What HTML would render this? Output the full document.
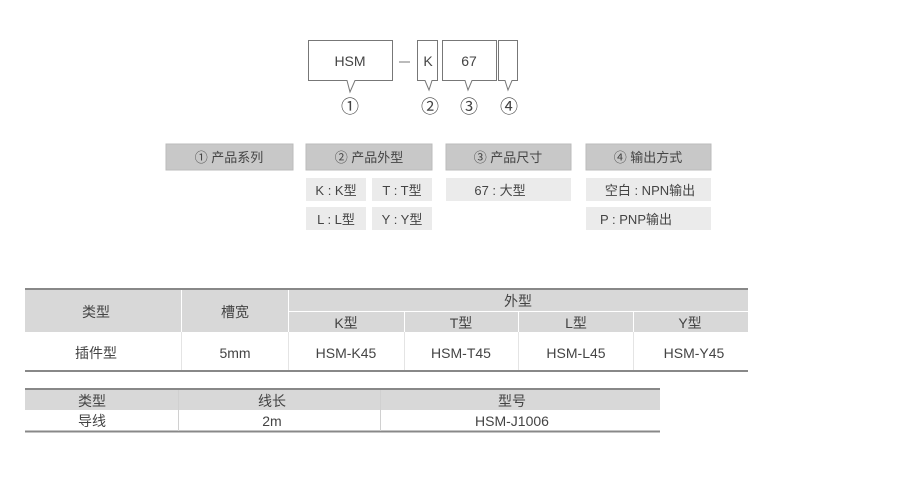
<!DOCTYPE html>
<html><head><meta charset="utf-8"><style>
body{margin:0;background:#fff;}
svg text{font-family:"Liberation Sans","Noto Sans CJK SC",sans-serif;fill:#444;}
</style></head><body>
<svg width="900" height="472" xmlns="http://www.w3.org/2000/svg">
<g fill="#fff" stroke="#777" stroke-width="1">
<path d="M308.5 40.5H392.5V80.5H355L350 92L347 80.5H308.5Z"/>
<path d="M417.5 40.5H437.5V80.5H432L429 90L425 80.5H417.5Z"/>
<path d="M442.5 40.5H496.5V80.5H472L468 90L465 80.5H442.5Z"/>
<path d="M498.5 40.5H517.5V80.5H512L508 90L505 80.5H498.5Z"/>
</g>
<line x1="399" y1="62" x2="410" y2="62" stroke="#777"/>
<g font-size="14" text-anchor="middle">
<text x="350" y="66">HSM</text><text x="428" y="66">K</text><text x="469" y="66">67</text>
</g>
<g font-size="18" text-anchor="middle" font-family="'DejaVu Sans',sans-serif">
<text x="350" y="113">①</text><text x="430" y="113">②</text><text x="469" y="113">③</text><text x="509" y="113">④</text>
</g>
<g fill="#c8c8c8" stroke="#bbb">
<rect x="166" y="144" width="127" height="26"/><rect x="306" y="144" width="126" height="26"/>
<rect x="446" y="144" width="125" height="26"/><rect x="586" y="144" width="125" height="26"/>
</g>
<g fill="#ebebeb">
<rect x="306" y="178" width="60" height="23"/><rect x="372" y="178" width="60" height="23"/>
<rect x="306" y="207" width="60" height="23"/><rect x="372" y="207" width="60" height="23"/>
<rect x="446" y="178" width="125" height="23"/>
<rect x="586" y="178" width="125" height="23"/><rect x="586" y="207" width="125" height="23"/>
</g>
<g font-size="13" text-anchor="middle">
<text x="229" y="162">① 产品系列</text><text x="369" y="162">② 产品外型</text>
<text x="508" y="162">③ 产品尺寸</text><text x="648" y="162">④ 输出方式</text>
<text x="336" y="195">K : K型</text><text x="402" y="195">T : T型</text>
<text x="336" y="224">L : L型</text><text x="402" y="224">Y : Y型</text>
<text x="500" y="195">67 : 大型</text>
<text x="650" y="195">空白 : NPN输出</text><text x="636" y="224">P : PNP输出</text>
</g>
<!-- table 1 -->
<rect x="25" y="290" width="723" height="42" fill="#d8d8d8"/>
<line x1="25" y1="289" x2="748" y2="289" stroke="#888" stroke-width="2"/>
<line x1="288" y1="311.5" x2="748" y2="311.5" stroke="#fff"/>
<line x1="25" y1="371" x2="748" y2="371" stroke="#888" stroke-width="2"/>
<g stroke="#e4e4e4"><line x1="181.5" y1="290" x2="181.5" y2="370"/><line x1="288.5" y1="290" x2="288.5" y2="370"/>
<line x1="404.5" y1="312" x2="404.5" y2="370"/><line x1="518.5" y1="312" x2="518.5" y2="370"/><line x1="633.5" y1="312" x2="633.5" y2="370"/></g>
<g stroke="#fff"><line x1="181.5" y1="290" x2="181.5" y2="332"/><line x1="288.5" y1="290" x2="288.5" y2="332"/>
<line x1="404.5" y1="312" x2="404.5" y2="332"/><line x1="518.5" y1="312" x2="518.5" y2="332"/><line x1="633.5" y1="312" x2="633.5" y2="332"/></g>
<g font-size="14" text-anchor="middle">
<text x="96" y="317">类型</text><text x="235" y="317">槽宽</text><text x="518" y="306">外型</text>
<text x="346" y="328">K型</text><text x="461" y="328">T型</text><text x="576" y="328">L型</text><text x="690" y="328">Y型</text>
<text x="96" y="358">插件型</text><text x="235" y="358">5mm</text><text x="346" y="358">HSM-K45</text>
<text x="461" y="358">HSM-T45</text><text x="576" y="358">HSM-L45</text><text x="694" y="358">HSM-Y45</text>
</g>
<!-- table 2 -->
<rect x="25" y="390" width="635" height="20" fill="#d8d8d8"/>
<line x1="25" y1="389" x2="660" y2="389" stroke="#888" stroke-width="2"/>
<line x1="25" y1="431.5" x2="660" y2="431.5" stroke="#888" stroke-width="2"/>
<g stroke="#d0d0d0"><line x1="178.5" y1="390" x2="178.5" y2="431"/><line x1="380.5" y1="390" x2="380.5" y2="431"/></g>
<g font-size="14" text-anchor="middle">
<text x="92" y="406">类型</text><text x="272" y="406">线长</text><text x="512" y="406">型号</text>
<text x="92" y="426">导线</text><text x="272" y="426">2m</text><text x="512" y="426">HSM-J1006</text>
</g>
</svg>
</body></html>
